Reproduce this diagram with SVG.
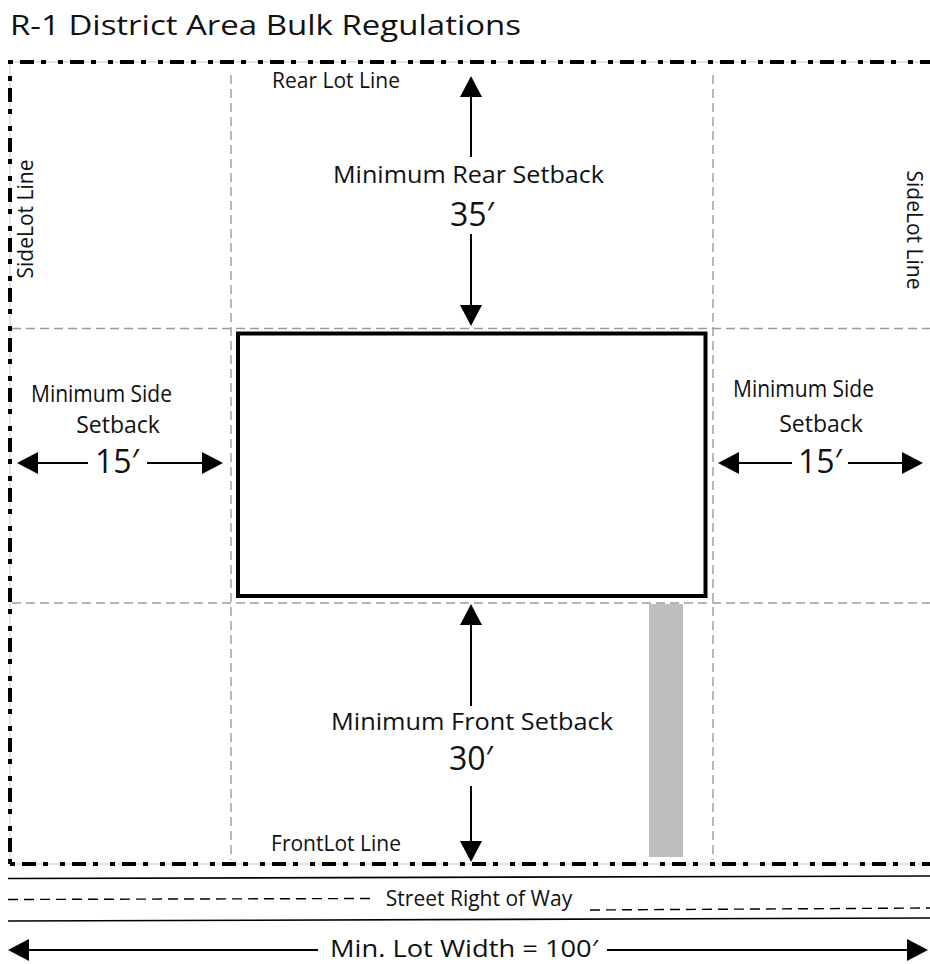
<svg xmlns="http://www.w3.org/2000/svg" width="930" height="964" viewBox="0 0 930 964">
<style>
text{font-family:"Open Sans","Noto Sans","Liberation Sans",sans-serif;fill:#111}
.t{font-size:28px}
.s{font-size:21px}
.m{font-size:23px}
.n{font-size:32px}
.grid{stroke:#9a9a9a;stroke-width:1.4;stroke-dasharray:9 5;fill:none}
.lot{stroke:#000;stroke-width:4;stroke-dasharray:5 7 14 7 5 12;fill:none}
.thin{stroke:#c8c8c8;stroke-width:1;fill:none}
.arr{stroke:#000;stroke-width:2;fill:none;marker-end:url(#ah)}
.st{stroke:#000;stroke-width:1.6;fill:none}
.sd{stroke:#000;stroke-width:1.4;stroke-dasharray:10 6;fill:none}
</style>
<defs>
<marker id="ah" markerUnits="userSpaceOnUse" viewBox="-21 -11 21 22" refX="-10" refY="0" markerWidth="21" markerHeight="22" orient="auto">
<path d="M0,0 L-21,-11 L-21,11 Z" fill="#000"/>
</marker>
</defs>
<rect width="930" height="964" fill="#fff"/>
<text class="t" x="10" y="35" textLength="511" lengthAdjust="spacingAndGlyphs">R-1 District Area Bulk Regulations</text>

<g id="grid">
<line class="grid" x1="231" y1="75" x2="231" y2="860"/>
<line class="grid" x1="713" y1="75" x2="713" y2="860"/>
<line class="grid" x1="12" y1="328.5" x2="930" y2="328.5"/>
<line class="grid" x1="12" y1="603" x2="930" y2="603"/>
</g>

<g id="lot-lines">
<path class="thin" d="M10,864 V62 H930 M10,864 H930"/>
<path class="lot" d="M10,864 V62 H935"/>
<path class="lot" d="M10,864 H935"/>
</g>

<g id="building">
<rect x="238" y="333.5" width="467.5" height="262.5" fill="#fff" stroke="#000" stroke-width="4"/>
</g>

<g id="driveway">
<rect x="649" y="604" width="34" height="253" fill="#bcbec0"/>
</g>

<g id="connectors">
<line class="arr" x1="471" y1="157" x2="471" y2="86"/>
<line class="arr" x1="471" y1="234" x2="471" y2="316"/>
<line class="arr" x1="471" y1="706" x2="471" y2="614"/>
<line class="arr" x1="471" y1="786" x2="471" y2="852"/>
<line class="arr" x1="88" y1="463" x2="27" y2="463"/>
<line class="arr" x1="147" y1="463" x2="213" y2="463"/>
<line class="arr" x1="792" y1="463" x2="728" y2="463"/>
<line class="arr" x1="848" y1="463" x2="913" y2="463"/>
<line class="arr" x1="318" y1="950" x2="18" y2="950"/>
<line class="arr" x1="607" y1="950" x2="918" y2="950"/>
</g>

<g id="street">
<line class="st" x1="8" y1="878.5" x2="930" y2="876"/>
<line class="st" x1="8" y1="921" x2="930" y2="918"/>
<line class="sd" x1="8" y1="899.5" x2="370" y2="898.5"/>
<line class="sd" x1="590" y1="910" x2="930" y2="908"/>
<text class="s" x="479" y="906" text-anchor="middle">Street Right of Way</text>
</g>

<g id="rear-label">
<text class="s" x="336" y="88" text-anchor="middle">Rear Lot Line</text>
<text class="m" x="468.5" y="183" text-anchor="middle" textLength="271" lengthAdjust="spacingAndGlyphs">Minimum Rear Setback</text>
<text class="n" x="472" y="226" text-anchor="middle">35′</text>
</g>

<g id="front-label">
<text class="m" x="472" y="730" text-anchor="middle" textLength="282" lengthAdjust="spacingAndGlyphs">Minimum Front Setback</text>
<text class="n" x="471" y="770" text-anchor="middle">30′</text>
<text class="s" x="336" y="851" text-anchor="middle">FrontLot Line</text>
</g>

<g id="left-side">
<text class="m" x="101.5" y="402" text-anchor="middle" textLength="141" lengthAdjust="spacingAndGlyphs">Minimum Side</text>
<text class="m" x="118" y="433" text-anchor="middle">Setback</text>
<text class="n" x="117" y="473" text-anchor="middle">15′</text>
<text class="s" transform="translate(33,219) rotate(-90)" text-anchor="middle">SideLot Line</text>
</g>

<g id="right-side">
<text class="m" x="803.5" y="397" text-anchor="middle" textLength="141" lengthAdjust="spacingAndGlyphs">Minimum Side</text>
<text class="m" x="821" y="432" text-anchor="middle">Setback</text>
<text class="n" x="820" y="473" text-anchor="middle">15′</text>
<text class="s" transform="translate(907,230) rotate(90)" text-anchor="middle">SideLot Line</text>
</g>

<g id="lot-width">
<text class="m" x="464" y="957" text-anchor="middle" textLength="268" lengthAdjust="spacingAndGlyphs">Min. Lot Width = 100′</text>
</g>
</svg>
